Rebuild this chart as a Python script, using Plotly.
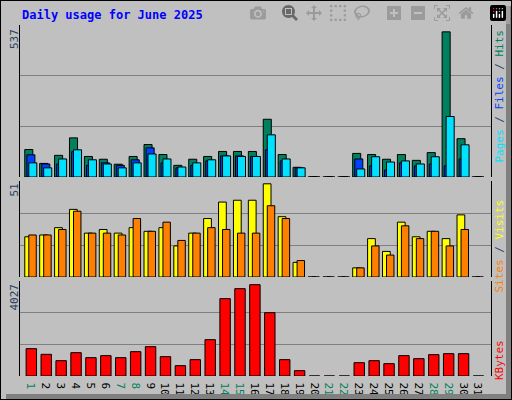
import plotly.graph_objects as go

days = list(range(1, 32))
hits  = [99,49,78,141,74,64,46,74,117,81,42,64,74,92,92,92,208,81,35,0,0,0,85,81,64,81,60,88,523,138,0]
files = [80,47,47,91,42,51,42,62,105,51,33,42,58,76,76,74,98,58,33,0,0,0,65,40,25,51,40,47,40,65,0]
pages = [51,33,65,98,62,47,33,51,83,65,36,51,62,76,74,74,152,65,33,0,0,0,29,73,54,58,47,73,218,116,0]
visits = [22,23,27,37,24,26,24,27,25,27,17,24,32,41,42,42,51,33,8,0,0,0,5,21,14,30,22,25,21,34,0]
sites  = [23,23,26,36,24,24,23,32,25,30,20,24,27,26,24,24,39,32,9,0,0,0,5,17,12,28,21,25,17,26,0]
kbytes = [1205,955,676,1029,808,897,808,1073,1293,853,456,720,1602,3410,3851,4027,2793,720,235,0,0,0,588,676,544,897,764,941,985,985,0]
weekend = {1,7,8,14,15,21,22,28,29}

W, H = 512, 400
def yd(top, bot):
    return [1 - bot / H, 1 - top / H]

fig = go.Figure()
line = dict(color="black", width=1)
def bar(y, color, off, wid, ax):
    fig.add_trace(go.Bar(x=days, y=y, marker=dict(color=color, line=line),
                         offset=off, width=wid, xaxis="x", yaxis=ax, showlegend=False))

bar(hits, "#00805C", -0.54, 0.54, "y")
bar(files, "#0040FF", -0.40, 0.54, "y")
bar(pages, "#00E0FF", -0.27, 0.54, "y")
bar(visits, "#FFFF00", -0.54, 0.52, "y2")
bar(sites, "#FF8000", -0.27, 0.50, "y2")
bar(kbytes, "#FF0000", -0.45, 0.70, "y3")

ticktext = [f'<span style="color:{"#00805C" if d in weekend else "black"}">{d}</span>' for d in days]
xr = [0.14, 31.74]
mono = "DejaVu Sans Mono"
common_y = dict(showgrid=True, gridcolor="#808080", gridwidth=1, showticklabels=False,
                zeroline=False, showline=True, linecolor="black", mirror=True, ticks="")
fig.update_layout(
    width=W, height=H, margin=dict(l=0, r=0, t=0, b=0),
    paper_bgcolor="#C0C0C0", plot_bgcolor="#C0C0C0", barmode="overlay",
    xaxis=dict(domain=[20/W, 491/W], range=xr, anchor="y3", tickvals=days, ticktext=ticktext,
               tickfont=dict(family=mono, size=11), ticks="", showgrid=False,
               showline=False, ticklen=0),
    yaxis=dict(domain=yd(25, 177), range=[0, 537*1.02], dtick=537*1.02/3, anchor="x", **common_y),
    yaxis2=dict(domain=yd(181, 277), range=[0, 51*1.03], dtick=51*1.03/3, anchor="x", **common_y),
    yaxis3=dict(domain=yd(281, 376), range=[0, 4027*1.04], dtick=4027*1.04/3, anchor="x", **common_y),
    font=dict(family=mono),
)

shapes = [
    dict(type="rect", xref="paper", yref="paper", x0=0, x1=1, y0=0, y1=1,
         line=dict(color="black", width=2)),
    dict(type="rect", xref="paper", yref="paper", x0=1-6/W, x1=1-1/W, y0=1/H, y1=1-6/H,
         fillcolor="#808080", line=dict(width=0)),
    dict(type="rect", xref="paper", yref="paper", x0=6/W, x1=1-1/W, y0=1/H, y1=6/H,
         fillcolor="#808080", line=dict(width=0)),
]
fig.update_layout(shapes=shapes)

ann = [
    dict(text="<b>Daily usage for June 2025</b>", x=20/W, y=1-15/H, xanchor="left", yanchor="middle",
         font=dict(color="#0000FF", size=12, family=mono)),
    dict(text="537", x=14/W, y=1-27/H, textangle=-90, xanchor="center", yanchor="top",
         font=dict(size=11, family=mono)),
    dict(text="51", x=14/W, y=1-182/H, textangle=-90, xanchor="center", yanchor="top",
         font=dict(size=11, family=mono)),
    dict(text="4027", x=14/W, y=1-282/H, textangle=-90, xanchor="center", yanchor="top",
         font=dict(size=11, family=mono)),
    dict(text='<span style="color:#00E0FF">Pages</span> / <span style="color:#0040FF">Files</span> / <span style="color:#00805C">Hits</span>',
         x=499/W, y=1-28/H, textangle=-90, xanchor="center", yanchor="top", font=dict(size=11, family=mono)),
    dict(text='<span style="color:#FF8000">Sites</span> / <span style="color:#FFFF00">Visits</span>',
         x=499/W, y=1-198/H, textangle=-90, xanchor="center", yanchor="top", font=dict(size=11, family=mono)),
    dict(text='<span style="color:#FF0000">KBytes</span>',
         x=499/W, y=1-338/H, textangle=-90, xanchor="center", yanchor="top", font=dict(size=11, family=mono)),
]
for a in ann:
    a.update(xref="paper", yref="paper", showarrow=False)
fig.update_layout(annotations=ann)

fig.write_html("out.html")
with open("out.html", encoding="utf-8") as f:
    html = f.read()
html = html.replace("<head>", "<head><style>html,body{margin:0;padding:0;overflow:hidden}</style>", 1)
with open("out.html", "w", encoding="utf-8") as f:
    f.write(html)
